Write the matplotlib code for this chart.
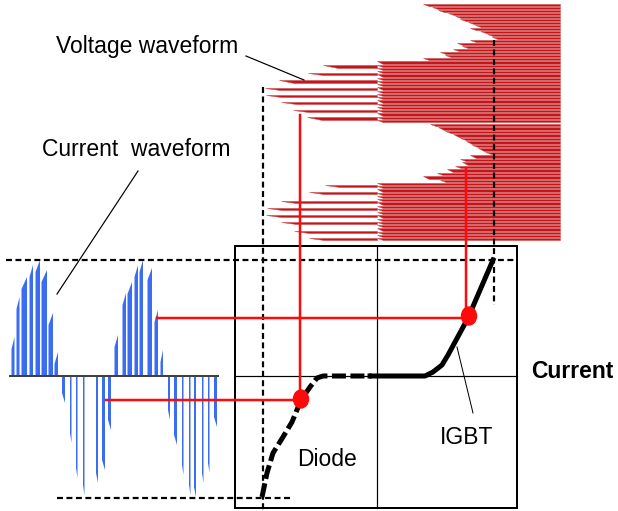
import numpy as np
import matplotlib.pyplot as plt
from matplotlib.patches import Ellipse, Rectangle

plt.rcParams['font.family'] = ['Liberation Sans', 'DejaVu Sans']

PX = 72.0 / 100.0  # points per pixel at dpi=100

# ---- current waveform (drawn horizontally, baseline y=376) ----
cur_base = 376
cur_x0, cur_x1 = 10, 218
cur_pos_left = [11.5, 16.5, 21.5, 29.5, 35.5, 41.5, 48.5, 54.5, 114.5, 122.5, 127.5, 134.5, 139.5, 147.5, 154.5, 160.5]
cur_pos_right = [14.5, 19.5, 27, 33, 40, 47, 53, 58, 118, 126, 132, 138, 143, 152, 158, 163]
cur_pos_peak = [337, 297, 277, 265, 260, 270, 313, 352, 335, 293, 282, 265, 260, 268, 310, 350]
cur_neg_left = [62, 70, 76, 83, 96, 102, 108, 168, 174, 182, 189, 194, 202, 208, 214]
cur_neg_right = [65, 71.5, 77.5, 84.5, 98, 105, 111, 170, 177, 183.5, 190.5, 196, 203.5, 209.5, 217]
cur_neg_peak = [403, 443, 478, 495, 483, 470, 430, 420, 445, 475, 495, 497, 483, 473, 427]

# ---- voltage waveform (drawn vertically, zero at x=377) ----
volt_zero = 377
volt_max = 560
volt_neg_y = [66.5, 74, 81.5, 89, 96, 103, 111, 118.5, 186, 193, 202, 209, 216, 223, 232, 239]
volt_neg_x = [323, 308, 279, 265, 266, 281, 293, 307, 325, 309, 281, 267, 266, 281, 294, 309]
volt_notch_y = [5, 8, 11, 14, 17, 20, 23, 26, 29, 32, 35, 38, 41, 44, 47, 50, 53, 56, 59,
                125, 128.5, 132, 135.5, 139, 142.5, 146, 149.5, 153, 156.5, 160, 163.5,
                167, 170.5, 174, 177.5, 181]
volt_notch_x = [423, 432, 438, 448, 455, 460, 468, 475, 470, 480, 487, 492, 470, 457, 462,
                453, 440, 445, 423,
                430, 438, 445, 453, 460, 466, 472, 478, 485, 470, 460, 462, 455, 447,
                437, 423, 440]
volt_full_bands = [(62.5, 123), (184, 240)]
volt_row_step = 3.25

# ---- V-I characteristic ----
box_x = [235, 517]
box_y = [246, 508]
axis_x, axis_y = 377, 376
diode_x = [262, 267, 273, 283, 292, 301, 310, 317, 323, 372]
diode_y = [497, 473, 453, 437, 422, 400, 387, 378, 376, 376]
igbt_x = [370, 425, 433, 442, 448, 468, 493]
igbt_y = [376, 376, 372, 365, 355, 318, 260]

# operating points and projections
op_x = [301, 469]
op_y = [399, 316]
proj_h_y = [400, 318]
proj_h_from = [106, 157]
proj_v_x = [300, 466]
proj_v_from = [115, 168]

blue = '#3a6df2'
dred = '#c3161c'
red = '#ff0a0a'

fig = plt.figure(figsize=(6.18, 5.11), dpi=100)
ax = fig.add_axes([0, 0, 1, 1])
ax.set_xlim(0, 618)
ax.set_ylim(511, 0)
ax.axis('off')

# current pulses
for xl, xr, pk in zip(cur_pos_left, cur_pos_right, cur_pos_peak):
    ax.fill([xl, xl, xr, xr], [cur_base, pk + 12, pk, cur_base], color=blue, lw=0, zorder=3)
for xl, xr, pk in zip(cur_neg_left, cur_neg_right, cur_neg_peak):
    ax.fill([xl, xr, xr, xl], [cur_base, cur_base, pk, pk - 10], color=blue, lw=0, zorder=3)
ax.plot([cur_x0, cur_x1], [cur_base, cur_base], color='#404040', lw=2 * PX, zorder=4)

# voltage pulses
def vrow(xs, y, xe, slant=6, h=1.1):
    ax.fill([xs, xe, xe, xs + slant], [y - h, y - h, y + h, y + h],
            color=dred, lw=0.5 * PX, ec='#d04848', zorder=2)

for y, xs in zip(volt_neg_y, volt_neg_x):
    vrow(xs, y, volt_zero, slant=15, h=1.4)
for y, xs in zip(volt_notch_y, volt_notch_x):
    vrow(xs, y, volt_max)
for y0, y1 in volt_full_bands:
    for y in np.arange(y0, y1, volt_row_step):
        vrow(volt_zero, y, volt_max)

# box and axes of the characteristic
ax.add_patch(Rectangle((box_x[0], box_y[0]), box_x[1] - box_x[0], box_y[1] - box_y[0],
                       fill=False, ec='black', lw=2 * PX, zorder=5))
ax.plot(box_x, [axis_y, axis_y], color='black', lw=1.2 * PX, zorder=5)
ax.plot([axis_x, axis_x], box_y, color='black', lw=1.2 * PX, zorder=5)

# dashed guide lines
dash = dict(color='black', lw=2.2 * PX, dashes=(2.7, 1.6), zorder=6)
ax.plot([6, 515], [260, 260], **dash)
ax.plot([57, 292], [498, 498], **dash)
ax.plot([263, 263], [87, 511], **dash)
ax.plot([494, 494], [40, 305], **dash)

# projections
for y, x0, x1 in zip(proj_h_y, proj_h_from, op_x):
    ax.plot([x0, x1], [y, y], color=red, lw=2.5 * PX, zorder=7)
for x, y0, y1 in zip(proj_v_x, proj_v_from, op_y):
    ax.plot([x, x], [y0, y1], color=red, lw=2.5 * PX, zorder=7)

# characteristic curve
ax.plot(diode_x, diode_y, color='black', lw=5 * PX, dashes=(2.8, 0.9),
        solid_capstyle='butt', dash_capstyle='butt', zorder=8)
ax.plot(igbt_x, igbt_y, color='black', lw=5 * PX, solid_joinstyle='round', zorder=8)

for x, y in zip(op_x, op_y):
    ax.add_patch(Ellipse((x, y), 15, 18, color=red, zorder=9))

# labels
fs = 16.5
ax.text(147, 47, 'Voltage waveform', fontsize=fs, ha='center', va='center')
ax.text(136, 149, 'Current  waveform', fontsize=fs, ha='center', va='center')
ax.text(572, 372, 'Current', fontsize=fs, fontweight='bold', ha='center', va='center')
ax.text(327, 460, 'Diode', fontsize=fs, ha='center', va='center')
ax.text(467, 437, 'IGBT', fontsize=fs, ha='center', va='center')

ax.plot([246, 304], [56, 80], color='black', lw=1.2 * PX, zorder=6)
ax.plot([138, 57], [171, 294], color='black', lw=1.2 * PX, zorder=6)
ax.plot([457, 473], [347, 413], color='black', lw=1.0 * PX, zorder=6)

fig.savefig('out.png', dpi=100)
